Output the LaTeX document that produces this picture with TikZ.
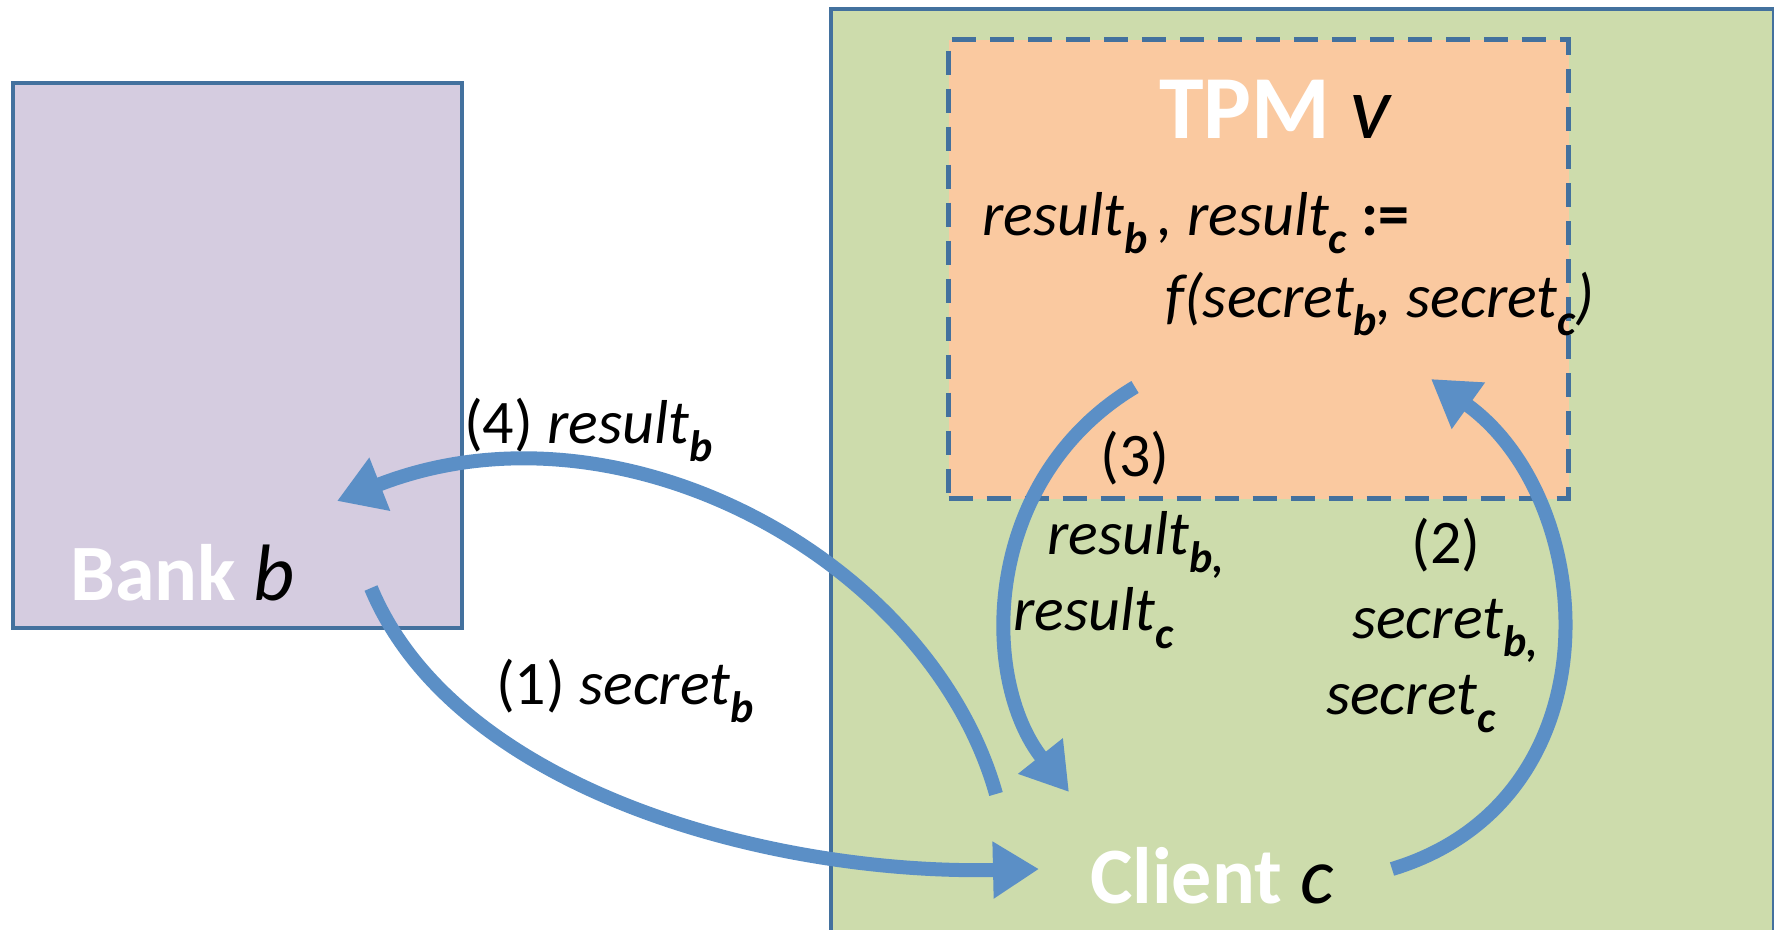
\documentclass[tikz,border=0pt]{standalone}
\usepackage{fontspec}
\setmainfont{Carlito}
\usetikzlibrary{arrows.meta}
\definecolor{bankfill}{HTML}{D5CCE0}
\definecolor{clientfill}{HTML}{CDDCAC}
\definecolor{tpmfill}{HTML}{FAC9A0}
\definecolor{edge}{HTML}{43719E}
\definecolor{flow}{HTML}{5B8FC6}
\newcommand\sbb[1]{\raisebox{-0.3em}{\fontsize{44}{44}\selectfont\bfseries\itshape #1}}
\tikzset{
  box/.style={draw=edge,line width=4pt,inner sep=0pt,anchor=north west},
  big/.style={font=\fontsize{80}{82}\selectfont\bfseries,text=white,inner sep=0pt},
  lbl/.style={font=\fontsize{62}{64}\selectfont,inner sep=0pt},
  flowarrow/.style={draw=flow,line width=14pt,-{Triangle[width=54pt,length=46pt]}}
}
\begin{document}
\begin{tikzpicture}[x=1pt,y=-1pt]
\useasboundingbox (0,0) rectangle (1774,929);
% boxes
\node[box,fill=bankfill,minimum width=449pt,minimum height=545pt] (bank) at (11,81) {};
\node[box,fill=clientfill,minimum width=943pt,minimum height=940pt] (client) at (829,7) {};
\node[box,fill=tpmfill,line width=5pt,dash pattern=on 24pt off 14pt,minimum width=620pt,minimum height=459pt] (tpm) at (946,37) {};
% titles
\node[big,anchor=base,font=\fontsize{90}{92}\selectfont\bfseries] (tpmt) at (1275,138) {TPM \textcolor{black}{\mdseries\itshape v}};
\node[big,anchor=base west] (bankt) at (70,600) {Bank \textcolor{black}{\mdseries\itshape b}};
\node[big,anchor=base west] (clientt) at (1090,903) {Client \textcolor{black}{\mdseries\itshape c}};
% labels
\node[lbl,anchor=base west] (f1) at (982,235) {\itshape result\sbb{b}\,, result\sbb{c} \upshape\bfseries :=};
\node[lbl,anchor=base west] (f2) at (1165,317) {\itshape f(secret\sbb{b}, secret\sbb{c})};
\node[lbl,anchor=center] (l3) at (1135,458) {(3)};
\node[lbl,anchor=base west] (l3a) at (1047,554) {\itshape result\sbb{b,}};
\node[lbl,anchor=base west] (l3b) at (1013,630) {\itshape result\sbb{c}};
\node[lbl,anchor=center] (l2) at (1446,545) {(2)};
\node[lbl,anchor=base west] (l2a) at (1352,638) {\itshape secret\sbb{b,}};
\node[lbl,anchor=base west] (l2b) at (1326,714) {\itshape secret\sbb{c}};
\node[lbl,anchor=base west] (l4) at (464,443) {(4) \itshape result\sbb{b}};
\node[lbl,anchor=base west] (l1) at (496,704) {(1) \itshape secret\sbb{b}};
% arrow ends
\coordinate (s1) at (371,588);
\coordinate (e1) at (1039,869);
\coordinate (s4) at (996,794);
\coordinate (e4) at (337,501);
\coordinate (s3) at (1135,387);
\coordinate (e3) at (1069,792);
\coordinate (s2) at (1392,869);
\coordinate (e2) at (1431,379);
\draw[flowarrow] (s1) .. controls (455,790) and (770,875) .. (e1);
\draw[flowarrow] (s4) .. controls (930,560) and (620,390) .. (e4);
\draw[flowarrow] (s3) .. controls (980,480) and (980,680) .. (e3);
\draw[flowarrow] (s2) .. controls (1620,800) and (1600,500) .. (e2);
\end{tikzpicture}
\end{document}
